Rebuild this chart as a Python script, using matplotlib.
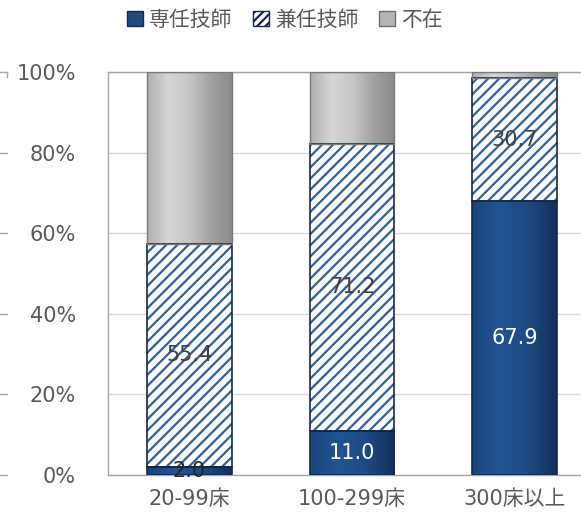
import matplotlib
matplotlib.use("Agg")
from matplotlib import pyplot as plt
from matplotlib.patches import Rectangle
import numpy as np

plt.rcParams['font.family'] = ['DejaVu Sans', 'Noto Sans CJK JP']
plt.rcParams['hatch.linewidth'] = 1.6

# data
categories = ["20-99床", "100-299床", "300床以上"]
series_names = ["専任技師", "兼任技師", "不在"]
full_time = [2.0, 11.0, 67.9]
part_time = [55.4, 71.2, 30.7]
absent = [42.6, 17.8, 1.4]
yticks = [0, 20, 40, 60, 80, 100]
ytick_labels = ["0%", "20%", "40%", "60%", "80%", "100%"]

BLUE = "#1f4a7e"
HATCH_BLUE = "#2f5f99"
NAVY = "#14274a"
TEXT = "#595959"

fig = plt.figure(figsize=(5.81, 5.23), dpi=100)
ax = fig.add_axes([108 / 581, 48 / 523, 488 / 581, 403 / 523])

x = np.arange(len(categories))
width = 0.52


# horizontal gradient painted into a bar's box
def gradient_fill(bar, colors, z):
    x0, y0 = bar.get_x(), bar.get_y()
    w, h = bar.get_width(), bar.get_height()
    cmap = matplotlib.colors.LinearSegmentedColormap.from_list("g", colors)
    grad = np.linspace(0, 1, 64).reshape(1, -1)
    ax.imshow(grad, extent=[x0, x0 + w, y0, y0 + h], aspect="auto",
              cmap=cmap, zorder=z, interpolation="bicubic")


b1 = ax.bar(x, full_time, width, color=BLUE, edgecolor=NAVY, linewidth=1.2, zorder=3)
for b in b1:
    gradient_fill(b, ["#1a457c", "#225493", "#1d4a83", "#12305a"], 2.5)
    b.set_facecolor("none")

bottom2 = np.array(full_time)
ax.bar(x, part_time, width, bottom=bottom2, color="white", edgecolor=HATCH_BLUE,
       hatch="///", linewidth=0, zorder=2)
ax.bar(x, part_time, width, bottom=bottom2, color="none", edgecolor=NAVY,
       linewidth=1.2, zorder=3)

bottom3 = bottom2 + np.array(part_time)
b3 = ax.bar(x, absent, width, bottom=bottom3, color="#bbbbbb", edgecolor="#7a7a7a",
            linewidth=1.0, zorder=3)
for b in b3:
    gradient_fill(b, ["#b0b0b0", "#d6d6d6", "#c6c6c6", "#a2a2a2", "#8a8a8a"], 2.5)
    b.set_facecolor("none")

# value labels
for i in range(len(categories)):
    if full_time[i] < 5:
        ax.text(x[i], 0.9, f"{full_time[i]:.1f}", ha="center", va="center",
                fontsize=15, color="#262626", zorder=5)
    else:
        ax.text(x[i], full_time[i] / 2, f"{full_time[i]:.1f}", ha="center",
                va="center", fontsize=15, color="white", zorder=5)
    ax.text(x[i], full_time[i] + part_time[i] / 2, f"{part_time[i]:.1f}",
            ha="center", va="center", fontsize=15, color="#404040", zorder=5)

ax.set_xlim(-0.5, 2.5)
ax.set_ylim(0, 100)
ax.set_yticks(yticks)
ax.set_yticklabels(ytick_labels)
ax.set_xticks(x)
ax.set_xticklabels(categories, family=['DejaVu Sans', 'Noto Sans CJK JP'])
ax.tick_params(axis="y", length=0, pad=23, labelsize=15, labelcolor=TEXT)
ax.tick_params(axis="x", length=0, pad=10, labelsize=15, labelcolor=TEXT)
ax.grid(axis="y", color="#d9d9d9", linewidth=1, zorder=0)
ax.set_axisbelow(True)
for s in ax.spines.values():
    s.set_color("#a6a6a6")
    s.set_linewidth(1)

# small outer tick marks at the left edge
trans = matplotlib.transforms.blended_transform_factory(fig.transFigure, ax.transData)
for t in yticks:
    ax.plot([0, 7 / 581], [t, t], color="#a6a6a6", linewidth=1,
            transform=trans, clip_on=False)
ax.plot([7 / 581, 7 / 581], [100, 98.8], color="#a6a6a6", linewidth=1,
        transform=trans, clip_on=False)

# legend
handles = [
    Rectangle((0, 0), 1, 1, facecolor=BLUE, edgecolor=NAVY),
    Rectangle((0, 0), 1, 1, facecolor="white", edgecolor=NAVY, hatch="////"),
    Rectangle((0, 0), 1, 1, facecolor="#b5b5b5", edgecolor="#6f6f6f"),
]
fig.legend(handles, series_names, loc="center", bbox_to_anchor=(285 / 581, 1 - 20 / 523),
           ncol=3, frameon=False, handlelength=0.75, handleheight=0.75,
           handletextpad=0.3, columnspacing=1.0,
           prop={"family": ["Noto Sans CJK JP"], "size": 15}, labelcolor=TEXT)

fig.savefig("out.png", dpi=100)
